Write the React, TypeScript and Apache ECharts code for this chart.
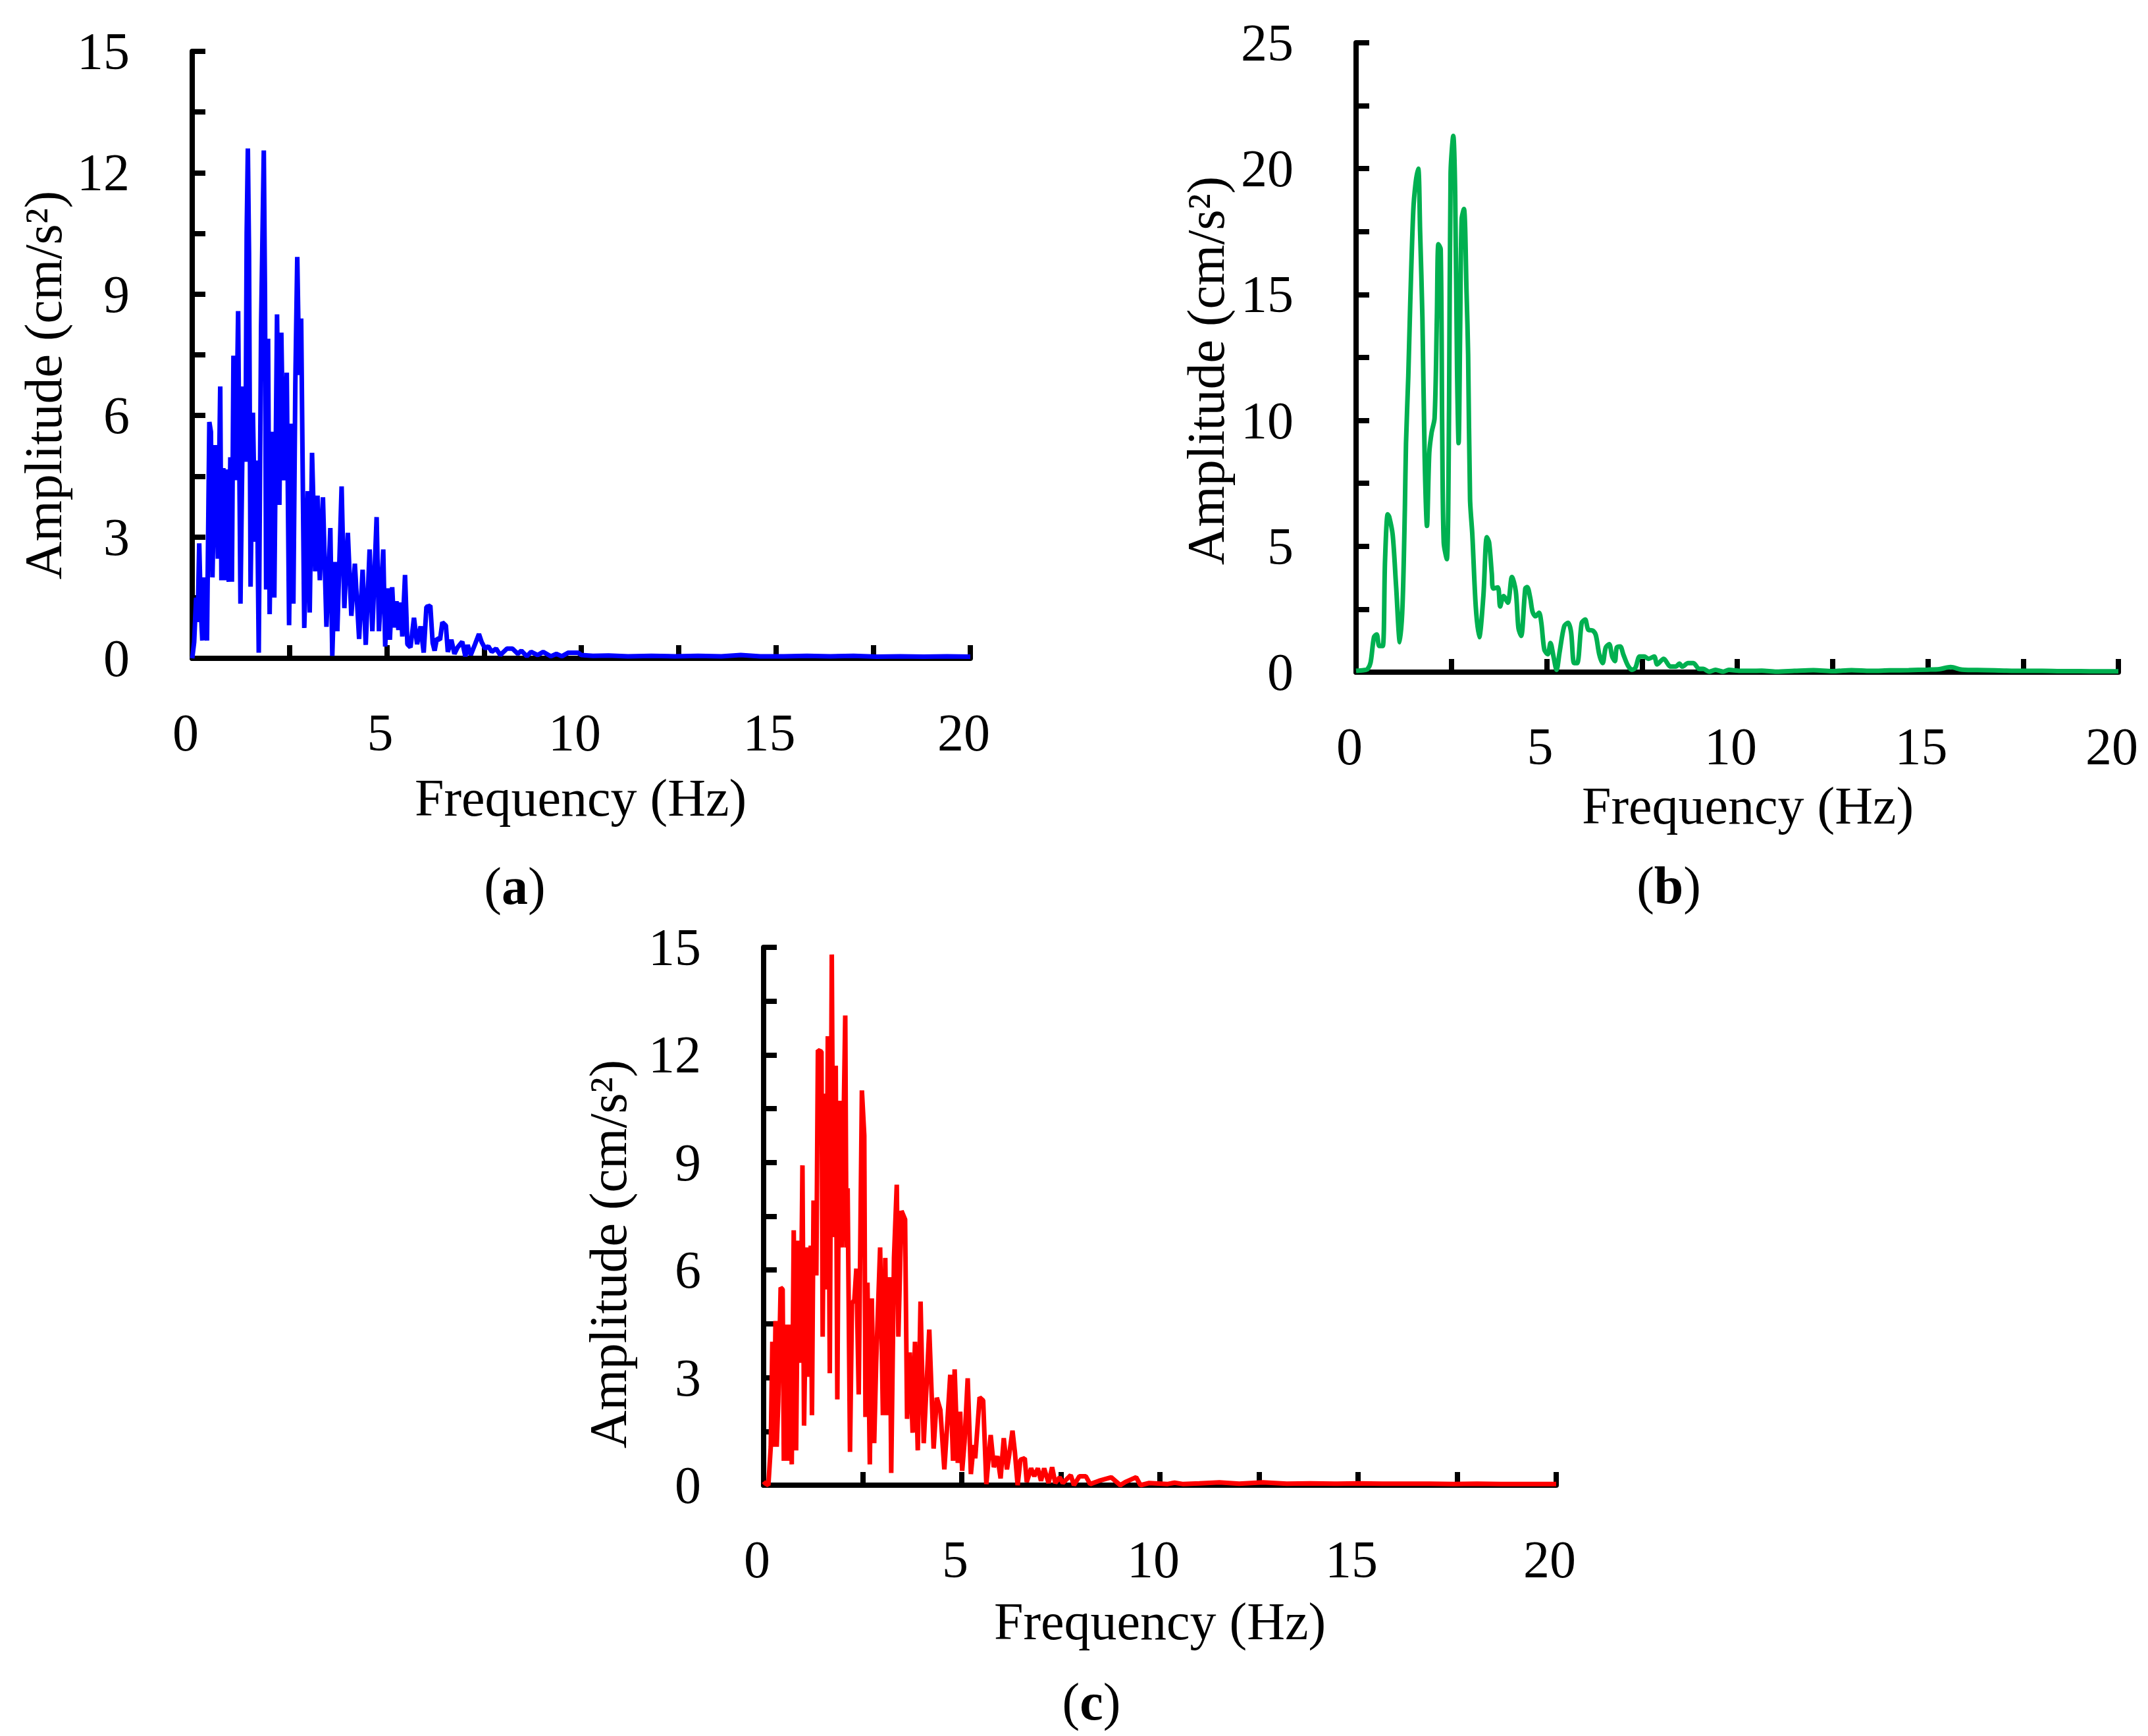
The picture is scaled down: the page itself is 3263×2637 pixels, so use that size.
import React, { useEffect, useRef } from "react";
import * as echarts from "echarts";

// ---------- Panel (a) : blue ----------
const freqA = [0.00,0.05,0.10,0.14,0.18,0.22,0.26,0.30,0.34,0.38,0.44,0.48,0.52,0.56,0.60,0.66,0.72,0.75,0.80,0.84,0.88,0.94,0.98,1.02,1.06,1.12,1.18,1.24,1.31,1.37,1.40,1.43,1.46,1.50,1.56,1.62,1.66,1.71,1.77,1.84,1.87,1.90,1.95,1.99,2.05,2.11,2.18,2.24,2.29,2.35,2.43,2.49,2.55,2.60,2.65,2.70,2.75,2.80,2.88,2.97,3.02,3.08,3.16,3.22,3.28,3.36,3.45,3.55,3.60,3.67,3.73,3.84,3.91,4.00,4.09,4.18,4.29,4.38,4.46,4.56,4.63,4.74,4.80,4.91,4.96,5.02,5.08,5.14,5.19,5.25,5.30,5.36,5.40,5.47,5.53,5.61,5.70,5.78,5.87,5.95,6.02,6.12,6.18,6.23,6.29,6.37,6.43,6.52,6.57,6.66,6.74,6.82,6.94,7.02,7.08,7.16,7.27,7.37,7.44,7.53,7.61,7.70,7.81,7.92,8.09,8.23,8.37,8.46,8.60,8.71,8.88,9.02,9.22,9.36,9.50,9.67,9.84,9.92,10.0,10.3,10.7,11.2,11.8,12.4,13.0,13.6,14.1,14.6,15.2,15.8,16.4,17.0,17.6,18.2,18.8,19.4,20.0];
const ampA = [0.0,0.4,1.5,0.9,2.84,1.2,0.44,2.0,1.1,0.44,5.84,5.6,2.0,4.0,5.27,2.46,6.72,1.93,4.70,1.93,4.67,1.89,4.97,1.89,7.48,4.4,8.58,1.35,6.72,4.86,10.5,12.6,10.0,1.77,6.07,2.88,4.89,0.14,8.2,12.55,9.0,1.7,7.9,1.09,5.6,1.5,8.5,3.79,8.05,4.4,7.06,0.82,5.8,1.35,6.76,9.92,7.0,8.4,0.75,4.13,1.13,5.08,2.15,4.02,1.93,3.98,0.78,3.22,0.06,2.38,0.67,4.25,1.24,3.1,1.05,2.34,0.48,2.19,0.33,2.69,0.67,3.49,0.67,2.69,0.29,1.73,0.46,1.76,0.76,1.41,0.70,1.38,0.54,2.06,0.35,0.27,1.0,0.35,0.79,0.14,1.27,1.30,0.38,0.19,0.49,0.46,0.89,0.81,0.16,0.46,0.11,0.27,0.41,0.05,0.33,0.08,0.35,0.6,0.4,0.24,0.3,0.16,0.24,0.08,0.24,0.24,0.11,0.19,0.05,0.16,0.08,0.16,0.05,0.11,0.05,0.14,0.14,0.14,0.08,0.06,0.07,0.05,0.06,0.05,0.06,0.05,0.08,0.05,0.05,0.06,0.05,0.06,0.04,0.05,0.04,0.05,0.04];

// ---------- Panel (b) : green ----------
const freqB = [0.0,0.2,0.3,0.38,0.47,0.54,0.61,0.70,0.76,0.83,0.87,0.96,1.05,1.15,1.22,1.28,1.31,1.37,1.42,1.50,1.56,1.63,1.68,1.74,1.80,1.86,1.92,1.98,2.06,2.12,2.16,2.22,2.26,2.30,2.38,2.44,2.48,2.55,2.60,2.65,2.69,2.73,2.77,2.83,2.90,2.94,2.99,3.05,3.14,3.23,3.34,3.43,3.49,3.56,3.60,3.72,3.78,3.87,3.98,4.09,4.19,4.26,4.33,4.44,4.49,4.57,4.63,4.71,4.80,4.86,4.94,5.03,5.10,5.18,5.26,5.34,5.46,5.56,5.64,5.72,5.80,5.92,6.01,6.09,6.21,6.29,6.38,6.47,6.55,6.64,6.72,6.79,6.84,6.93,7.01,7.13,7.24,7.33,7.44,7.56,7.67,7.82,7.90,8.07,8.25,8.39,8.48,8.56,8.71,8.85,9.00,9.11,9.26,9.43,9.63,9.78,10.07,10.36,10.64,11.03,11.5,12.0,12.5,13.0,13.5,14.0,14.5,15.0,15.3,15.6,15.9,16.5,17.0,17.5,18.0,18.5,19.0,19.5,20.0];
const ampB = [0.05,0.08,0.12,0.38,1.39,1.5,1.04,1.04,4.44,6.27,6.17,5.46,3.42,1.19,2.71,6.47,9.1,11.76,14.6,18.3,19.4,20.0,17.5,14.1,8.5,5.81,8.7,9.5,10.1,14.1,17.0,16.8,9.5,5.15,4.49,10.5,19.8,21.3,19.0,12.0,9.1,13.6,18.0,18.4,15.0,12.6,6.88,5.46,2.61,1.39,3.02,5.36,5.15,3.93,3.32,3.37,2.61,3.02,2.76,3.78,3.22,1.75,1.44,3.32,3.38,2.94,2.4,2.22,2.36,1.96,0.89,0.71,1.16,0.62,0.09,0.8,1.82,1.96,1.6,0.36,0.36,1.96,2.09,1.69,1.65,1.47,0.71,0.36,0.98,1.11,0.62,0.44,0.98,1.02,0.71,0.27,0.09,0.18,0.62,0.62,0.53,0.62,0.31,0.53,0.22,0.22,0.34,0.22,0.36,0.36,0.13,0.13,0.02,0.09,0.02,0.09,0.05,0.05,0.06,0.02,0.05,0.08,0.04,0.08,0.05,0.07,0.08,0.1,0.12,0.2,0.1,0.08,0.06,0.05,0.05,0.04,0.04,0.03,0.03];

// ---------- Panel (c) : red ----------
const freqC = [0.00,0.04,0.12,0.18,0.22,0.26,0.30,0.33,0.37,0.43,0.48,0.51,0.57,0.62,0.67,0.71,0.76,0.82,0.87,0.93,0.98,1.02,1.09,1.15,1.19,1.22,1.26,1.33,1.37,1.46,1.49,1.54,1.58,1.62,1.67,1.72,1.76,1.82,1.86,1.91,1.97,2.06,2.09,2.12,2.18,2.23,2.29,2.34,2.40,2.48,2.54,2.57,2.62,2.68,2.73,2.79,2.84,2.94,3.01,3.07,3.12,3.18,3.22,3.29,3.36,3.40,3.48,3.57,3.62,3.69,3.76,3.82,3.89,3.96,4.04,4.18,4.29,4.37,4.46,4.56,4.62,4.71,4.78,4.82,4.90,4.96,5.01,5.07,5.15,5.23,5.30,5.34,5.45,5.54,5.62,5.73,5.81,5.90,5.98,6.06,6.14,6.20,6.28,6.34,6.41,6.48,6.59,6.64,6.75,6.83,6.92,7.00,7.08,7.19,7.28,7.36,7.47,7.55,7.75,7.83,7.97,8.13,8.24,8.46,8.77,9.00,9.13,9.40,9.51,9.73,10.18,10.37,10.59,11.0,11.5,12.0,12.6,13.2,13.8,14.4,15.0,15.6,16.2,16.8,17.4,18.0,18.6,19.2,20.0];
const ampC = [0.1,0.05,0.0,1.07,4.0,1.07,4.58,1.07,2.34,5.51,5.46,0.68,4.48,0.68,4.48,0.58,7.11,0.97,6.82,3.41,8.92,1.66,6.63,3.02,6.68,1.95,7.94,5.85,12.13,12.09,4.14,10.92,5.46,12.52,3.12,14.8,6.92,11.7,2.39,10.72,6.63,13.1,6.63,8.28,0.93,5.07,5.17,6.04,2.53,11.01,9.75,1.9,5.65,0.58,5.21,1.17,3.41,6.63,1.95,6.34,1.95,5.8,0.34,6.34,8.38,4.14,7.65,7.41,1.85,3.7,1.46,4.0,0.97,5.12,1.17,4.34,1.02,2.44,2.1,0.44,1.46,3.08,0.68,3.23,0.62,2.05,0.40,1.21,2.98,0.31,1.12,0.75,2.45,2.36,0.03,1.40,0.5,0.81,0.19,1.31,0.44,0.87,1.52,0.93,0.0,0.71,0.75,0.09,0.47,0.25,0.47,0.12,0.47,0.06,0.5,0.06,0.22,0.06,0.28,0.0,0.25,0.25,0.03,0.12,0.22,0.0,0.09,0.22,0.0,0.06,0.03,0.07,0.03,0.05,0.08,0.04,0.08,0.04,0.05,0.04,0.05,0.04,0.04,0.04,0.03,0.04,0.03,0.03,0.03];

// ---------- Axis settings ----------
const xTicksMax = 20;
const xTickStep = 5;
const yMaxA = 15, yStepA = 3;
const yMaxB = 25, yStepB = 5;
const yMaxC = 15, yStepC = 3;

const FONT = '"Liberation Serif", "Times New Roman", serif';
const BLACK = "#000000";

function pairs(xs: number[], ys: number[]) {
  return xs.map((x, i) => [x, ys[i]]);
}

function xAxis(gridIndex: number) {
  return {
    type: "value",
    gridIndex,
    min: 0,
    max: xTicksMax,
    interval: xTickStep,
    axisLine: { show: true, onZero: false, lineStyle: { color: BLACK, width: 8 } },
    axisTick: { show: true, inside: true, length: 20, lineStyle: { color: BLACK, width: 8 } },
    minorTick: { show: true, splitNumber: 2, length: 20, lineStyle: { color: BLACK, width: 8 } },
    splitLine: { show: false },
    minorSplitLine: { show: false },
    axisLabel: { margin: 73, fontSize: 80, fontFamily: FONT, color: BLACK, padding: [0, 20, 0, 0] },
  };
}

function yAxis(gridIndex: number, max: number, step: number) {
  return {
    type: "value",
    gridIndex,
    min: 0,
    max,
    interval: step,
    axisLine: { show: true, onZero: false, lineStyle: { color: BLACK, width: 8 } },
    axisTick: { show: true, inside: true, length: 20, lineStyle: { color: BLACK, width: 8 } },
    minorTick: { show: true, splitNumber: 2, length: 20, lineStyle: { color: BLACK, width: 8 } },
    splitLine: { show: false },
    minorSplitLine: { show: false },
    axisLabel: { margin: 95, fontSize: 80, fontFamily: FONT, color: BLACK },
  };
}

function series(idx: number, data: number[][], color: string, smooth: number | boolean) {
  return {
    type: "line",
    xAxisIndex: idx,
    yAxisIndex: idx,
    data,
    showSymbol: false,
    symbol: "none",
    smooth,
    lineStyle: { color, width: 7 },
    itemStyle: { color },
    emphasis: { disabled: true },
  };
}

function txt(x: number, y: number, text: string, rotate: boolean) {
  return {
    type: "text",
    x,
    y,
    rotation: rotate ? Math.PI / 2 : 0,
    style: {
      text,
      fontSize: 80,
      fontFamily: FONT,
      fill: BLACK,
      align: "center",
      verticalAlign: "middle",
      textAlign: "center",
      textVerticalAlign: "middle",
    },
  };
}

function panelLabel(x: number, y: number, letter: string) {
  return {
    type: "text",
    x,
    y,
    style: {
      text: "{n|(}{b|" + letter + "}{n|)}",
      fill: BLACK,
      align: "center",
      verticalAlign: "middle",
      textAlign: "center",
      textVerticalAlign: "middle",
      rich: {
        n: { fontSize: 80, fontFamily: FONT, fill: BLACK, color: BLACK },
        b: { fontSize: 80, fontFamily: FONT, fontWeight: "bold", fill: BLACK, color: BLACK },
      },
    },
  };
}

export default function App() {
  const ref = useRef<HTMLDivElement>(null);
  useEffect(() => {
    if (!ref.current) return;
    const chart = echarts.init(ref.current, undefined, { renderer: "svg" });
    const yTitle = "Amplitude (cm/s²)";
    const xTitle = "Frequency (Hz)";
    chart.setOption({
      animation: false,
      backgroundColor: "#ffffff",
      grid: [
        { left: 292, top: 78, width: 1182, height: 922 },
        { left: 2060, top: 65, width: 1158, height: 956 },
        { left: 1160, top: 1439, width: 1204, height: 817 },
      ],
      xAxis: [xAxis(0), xAxis(1), xAxis(2)],
      yAxis: [yAxis(0, yMaxA, yStepA), yAxis(1, yMaxB, yStepB), yAxis(2, yMaxC, yStepC)],
      series: [
        series(0, pairs(freqA, ampA), "#0000ff", false),
        series(1, pairs(freqB, ampB), "#00b050", 0.3),
        series(2, pairs(freqC, ampC), "#ff0000", false),
      ],
      graphic: [
        txt(66, 585, yTitle, true),
        txt(882, 1212, xTitle, false),
        panelLabel(782, 1346, "a"),
        txt(1832, 563, yTitle, true),
        txt(2655, 1224, xTitle, false),
        panelLabel(2535, 1345, "b"),
        txt(924, 1905, yTitle, true),
        txt(1762, 2463, xTitle, false),
        panelLabel(1658, 2585, "c"),
      ],
    });
    return () => chart.dispose();
  }, []);
  return (
    <div
      ref={ref}
      style={{ position: "absolute", left: 0, top: 0, width: 3263, height: 2637, background: "#fff" }}
    />
  );
}
